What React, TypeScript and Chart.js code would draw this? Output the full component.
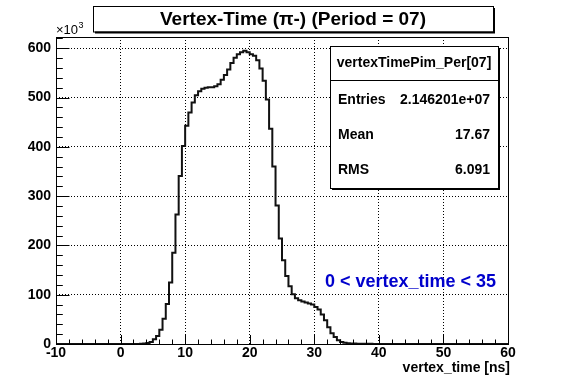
import React, { useEffect, useRef } from "react";
import { Chart, registerables } from "chart.js";

Chart.register(...registerables);

// ---- data ----
const X_MIN = -10;
const X_MAX = 60;
const BIN_WIDTH = 0.5;
const FIRST_FILLED_BIN = 3.0; // low edge of first non-empty bin
// bin contents (x10^3), bins of 0.5 ns starting at 3.0 ns
const counts = [
  0.3, 0.8, 2, 4, 9.5, 16, 29, 51, 81, 125, 185, 263, // 3.0 - 8.5
  341, 402, 443, 470, 490, 505, 513, 518, 520, 521, // 9.0 - 13.5
  521, 523, 527, 536, 546, 557, 570, 581, 588, 592, // 14.0 - 18.5
  595, 592, 588, 585, 576, 559, 534, 496, 437, 360, // 19.0 - 23.5
  281, 214, 170, 138, 117, 101, 93, 89, 86, 84, // 24.0 - 28.5
  82, 80, 75, 70, 60, 48, 34, 22, 14, 7.5, // 29.0 - 33.5
  4, 2.7, 1.5, 1.0, 0.8, 0.6, 0.5, 0.4, 0.3, 0.3, 0.2, 0.2, // 34.0 - 39.5
];
const xTickValues = [-10, 0, 10, 20, 30, 40, 50, 60];
const yTickValues = [0, 100, 200, 300, 400, 500, 600];
const Y_MAX = 623;
const titleText = "Vertex-Time (π-) (Period = 07)";
const statsName = "vertexTimePim_Per[07]";
const statsLabels = ["Entries", "Mean", "RMS"];
const statsValues = ["2.146201e+07", "17.67", "6.091"];
const cutText = "0 < vertex_time < 35";
const xAxisTitle = "vertex_time [ns]";

const FONT = "'Liberation Sans', Arial, Helvetica, sans-serif";

function buildPoints() {
  const pts: { x: number; y: number }[] = [];
  const nBins = Math.round((X_MAX - X_MIN) / BIN_WIDTH);
  for (let i = 0; i < nBins; i++) {
    const x = X_MIN + i * BIN_WIDTH;
    const k = Math.round((x - FIRST_FILLED_BIN) / BIN_WIDTH);
    const y = k >= 0 && k < counts.length ? counts[k] : 0;
    pts.push({ x, y });
  }
  pts.push({ x: X_MAX, y: 0 });
  return pts;
}

const decorations = {
  id: "rootDecorations",
  afterDraw(chart: any) {
    const ctx: CanvasRenderingContext2D = chart.ctx;
    const { left, right, top, bottom } = chart.chartArea;
    const xs = chart.scales.x;
    const ys = chart.scales.y;
    ctx.save();
    ctx.strokeStyle = "#000";
    ctx.lineWidth = 1;
    ctx.setLineDash([]);
    // frame
    ctx.strokeRect(Math.round(left) + 0.5, Math.round(top) + 0.5, Math.round(right - left), Math.round(bottom - top));
    // x ticks
    ctx.beginPath();
    for (let v = X_MIN; v <= X_MAX; v += 2) {
      const px = Math.round(xs.getPixelForValue(v)) + 0.5;
      const len = v % 10 === 0 ? 9 : 4.5;
      ctx.moveTo(px, bottom);
      ctx.lineTo(px, bottom - len);
    }
    // y ticks
    for (let v = 0; v <= Y_MAX; v += 20) {
      const py = Math.round(ys.getPixelForValue(v)) + 0.5;
      const len = v % 100 === 0 ? 13.5 : 6.8;
      ctx.moveTo(left, py);
      ctx.lineTo(left + len, py);
    }
    ctx.stroke();

    // x10^3
    ctx.fillStyle = "#000";
    ctx.textBaseline = "alphabetic";
    ctx.textAlign = "left";
    ctx.font = `13px ${FONT}`;
    ctx.fillText("×10", 56, 34);
    const w10 = ctx.measureText("×10").width;
    ctx.font = `9px ${FONT}`;
    ctx.fillText("3", 56 + w10 + 0.5, 28);

    // title box
    const tb = { x: 93, y: 6, w: 400, h: 25.5 };
    ctx.fillStyle = "#000";
    ctx.fillRect(tb.x + 2, tb.y + 2, tb.w, tb.h);
    ctx.fillStyle = "#fff";
    ctx.fillRect(tb.x, tb.y, tb.w, tb.h);
    ctx.strokeRect(tb.x + 0.5, tb.y + 0.5, tb.w, tb.h);
    ctx.fillStyle = "#000";
    ctx.font = `bold 19px ${FONT}`;
    ctx.textAlign = "center";
    ctx.textBaseline = "middle";
    ctx.fillText(titleText, tb.x + tb.w / 2, tb.y + tb.h / 2 + 1);

    // stats box
    const sb = { x: 330, y: 46, w: 168, h: 142 };
    ctx.fillStyle = "#000";
    ctx.fillRect(sb.x + 2, sb.y + 2, sb.w, sb.h);
    ctx.fillStyle = "#fff";
    ctx.fillRect(sb.x, sb.y, sb.w, sb.h);
    ctx.strokeRect(sb.x + 0.5, sb.y + 0.5, sb.w, sb.h);
    ctx.beginPath();
    ctx.moveTo(sb.x, 80.5);
    ctx.lineTo(sb.x + sb.w, 80.5);
    ctx.stroke();
    ctx.fillStyle = "#000";
    ctx.font = `bold 14px ${FONT}`;
    ctx.textAlign = "center";
    ctx.fillText(statsName, sb.x + sb.w / 2, 63);
    const rowsY = [100, 135, 170];
    for (let i = 0; i < statsLabels.length; i++) {
      ctx.textAlign = "left";
      ctx.fillText(statsLabels[i], 338, rowsY[i]);
      ctx.textAlign = "right";
      ctx.fillText(statsValues[i], 490, rowsY[i]);
    }

    // cut text
    ctx.fillStyle = "#0000cc";
    ctx.font = `bold 18px ${FONT}`;
    ctx.textAlign = "left";
    ctx.fillText(cutText, 325, 282);

    // x axis title
    ctx.fillStyle = "#000";
    ctx.font = `bold 14px ${FONT}`;
    ctx.textAlign = "right";
    ctx.fillText(xAxisTitle, 510, 368);
    ctx.restore();
  },
};

export default function App() {
  const ref = useRef<HTMLCanvasElement | null>(null);
  useEffect(() => {
    if (!ref.current) return;
    const chart = new Chart(ref.current, {
      type: "line",
      data: {
        datasets: [
          {
            data: buildPoints(),
            stepped: "before",
            borderColor: "#111",
            borderWidth: 2,
            pointRadius: 0,
            fill: false,
            tension: 0,
          },
        ],
      },
      options: {
        responsive: false,
        animation: false,
        events: [],
        layout: { padding: { top: 37, right: 59, left: 0, bottom: 0 } },
        plugins: { legend: { display: false }, tooltip: { enabled: false }, title: { display: false } },
        scales: {
          x: {
            type: "linear",
            min: X_MIN,
            max: X_MAX,
            afterFit: (s: any) => {
              s.height = 40;
            },
            afterBuildTicks: (s: any) => {
              s.ticks = xTickValues.map((v) => ({ value: v }));
            },
            ticks: {
              color: "#000",
              font: { family: FONT, size: 14, weight: "bold" },
              padding: 1,
              maxRotation: 0,
              autoSkip: false,
              callback: (v: any) => String(v),
            },
            grid: { color: "#000", lineWidth: 1, drawTicks: false },
            border: { display: false, dash: [1, 2] },
          },
          y: {
            type: "linear",
            min: 0,
            max: Y_MAX,
            afterFit: (s: any) => {
              s.width = 56;
            },
            afterBuildTicks: (s: any) => {
              s.ticks = yTickValues.map((v) => ({ value: v }));
            },
            ticks: {
              color: "#000",
              font: { family: FONT, size: 14, weight: "bold" },
              padding: 5,
              autoSkip: false,
              callback: (v: any) => String(v),
            },
            grid: { color: "#000", lineWidth: 1, drawTicks: false },
            border: { display: false, dash: [1, 2] },
          },
        },
      },
      plugins: [decorations],
    });
    return () => chart.destroy();
  }, []);
  return (
    <div style={{ position: "fixed", left: 0, top: 0, width: 567, height: 384, background: "#fff" }}>
      <canvas ref={ref} width={567} height={384} style={{ display: "block" }} />
    </div>
  );
}
